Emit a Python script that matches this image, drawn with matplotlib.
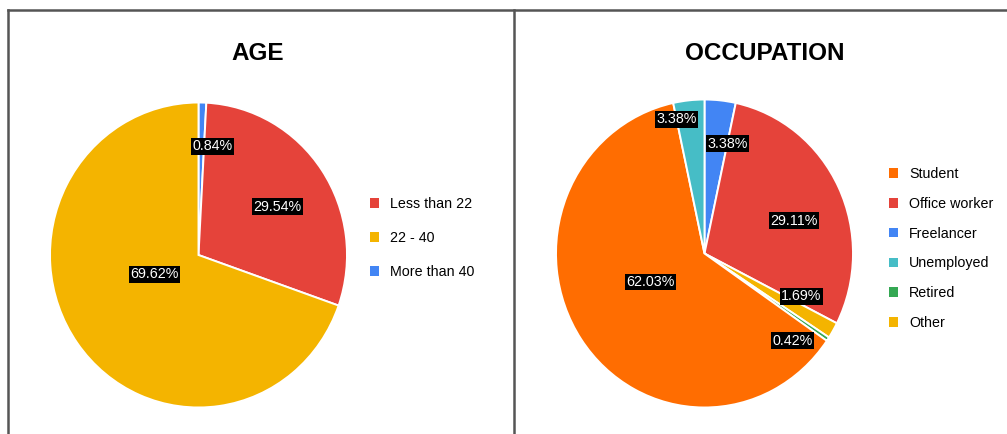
import numpy as np
import matplotlib.pyplot as plt
from matplotlib.patches import Patch
from matplotlib.lines import Line2D

plt.rcParams['font.family'] = ['Liberation Sans', 'DejaVu Sans']

W, H = 1007, 434

# AGE
age_labels = ['Less than 22', '22 - 40', 'More than 40']
age_values = [29.54, 69.62, 0.84]
age_colors = ['#e5433a', '#f4b400', '#4285f4']
age_order = [2, 0, 1]                 # slices clockwise from 12 o'clock
age_label_r = [0.62, 0.32, 0.72]
age_label_nudge = [3, 12, 6]          # degrees, clockwise

# OCCUPATION
occ_labels = ['Student', 'Office worker', 'Freelancer', 'Unemployed', 'Retired', 'Other']
occ_values = [62.03, 29.11, 3.38, 3.38, 0.42, 1.69]
occ_colors = ['#ff6d01', '#e5433a', '#4285f4', '#46bdc6', '#34a853', '#f4b400']
occ_order = [2, 1, 5, 4, 0, 3]
occ_label_r = [0.41, 0.64, 0.73, 0.89, 0.82, 0.71]
occ_label_nudge = [7, 6, 6, -6, 10, -7]


def px_axes(cx, cy, w, h):
    return fig.add_axes([(cx - w / 2) / W, 1 - (cy + h / 2) / H, w / W, h / H])


def draw_pie(ax, labels, values, colors, order, label_r, nudge):
    vals = [values[i] for i in order]
    cols = [colors[i] for i in order]
    ax.pie(vals, colors=cols, startangle=90, counterclock=False,
           wedgeprops=dict(edgecolor='white', linewidth=1.4))
    ax.set_aspect('auto')
    ax.set_xlim(-1, 1)
    ax.set_ylim(-1, 1)

    total = sum(vals)
    start = 0.0
    for i in order:
        mid = (start + values[i] / 2) / total * 360 + nudge[i]
        start += values[i]
        a = np.deg2rad(90 - mid)
        ax.text(label_r[i] * np.cos(a), label_r[i] * np.sin(a), f'{values[i]:.2f}%',
                ha='center', va='center', color='white', fontsize=10.3,
                bbox=dict(boxstyle='square,pad=0.1', fc='black', ec='none'))

    handles = [Patch(facecolor=c, edgecolor='none') for c in colors]
    return handles


fig = plt.figure(figsize=(W / 100, H / 100), dpi=100)
fig.patch.set_facecolor('white')

ax1 = px_axes(198.5, 255, 297, 305)
h1 = draw_pie(ax1, age_labels, age_values, age_colors, age_order,
              age_label_r, age_label_nudge)
ax1.legend(h1, age_labels, loc='center left', frameon=False,
           bbox_to_anchor=(370 / W, 1 - 238 / H), bbox_transform=fig.transFigure,
           fontsize=10.3, handlelength=0.65, handleheight=0.65, handletextpad=0.75,
           labelspacing=1.4, borderpad=0, borderaxespad=0)

ax2 = px_axes(704.5, 253.5, 297, 308)
h2 = draw_pie(ax2, occ_labels, occ_values, occ_colors, occ_order,
              occ_label_r, occ_label_nudge)
ax2.legend(h2, occ_labels, loc='center left', frameon=False,
           bbox_to_anchor=(889 / W, 1 - 248.5 / H), bbox_transform=fig.transFigure,
           fontsize=10.3, handlelength=0.65, handleheight=0.65, handletextpad=0.75,
           labelspacing=1.1, borderpad=0, borderaxespad=0)

fig.text(258 / W, 1 - 54 / H, 'AGE', ha='center', va='center',
         fontsize=17.5, fontweight='bold')
fig.text(765 / W, 1 - 54 / H, 'OCCUPATION', ha='center', va='center',
         fontsize=17.5, fontweight='bold')

# panel frame
frame = dict(color='#555555', linewidth=1.8, transform=fig.transFigure)
fig.add_artist(Line2D([7.5 / W, 1], [1 - 10 / H, 1 - 10 / H], **frame))
fig.add_artist(Line2D([7.5 / W, 7.5 / W], [0, 1 - 10 / H], **frame))
fig.add_artist(Line2D([514 / W, 514 / W], [0, 1 - 10 / H], **frame))

fig.savefig('out.png', dpi=100)
